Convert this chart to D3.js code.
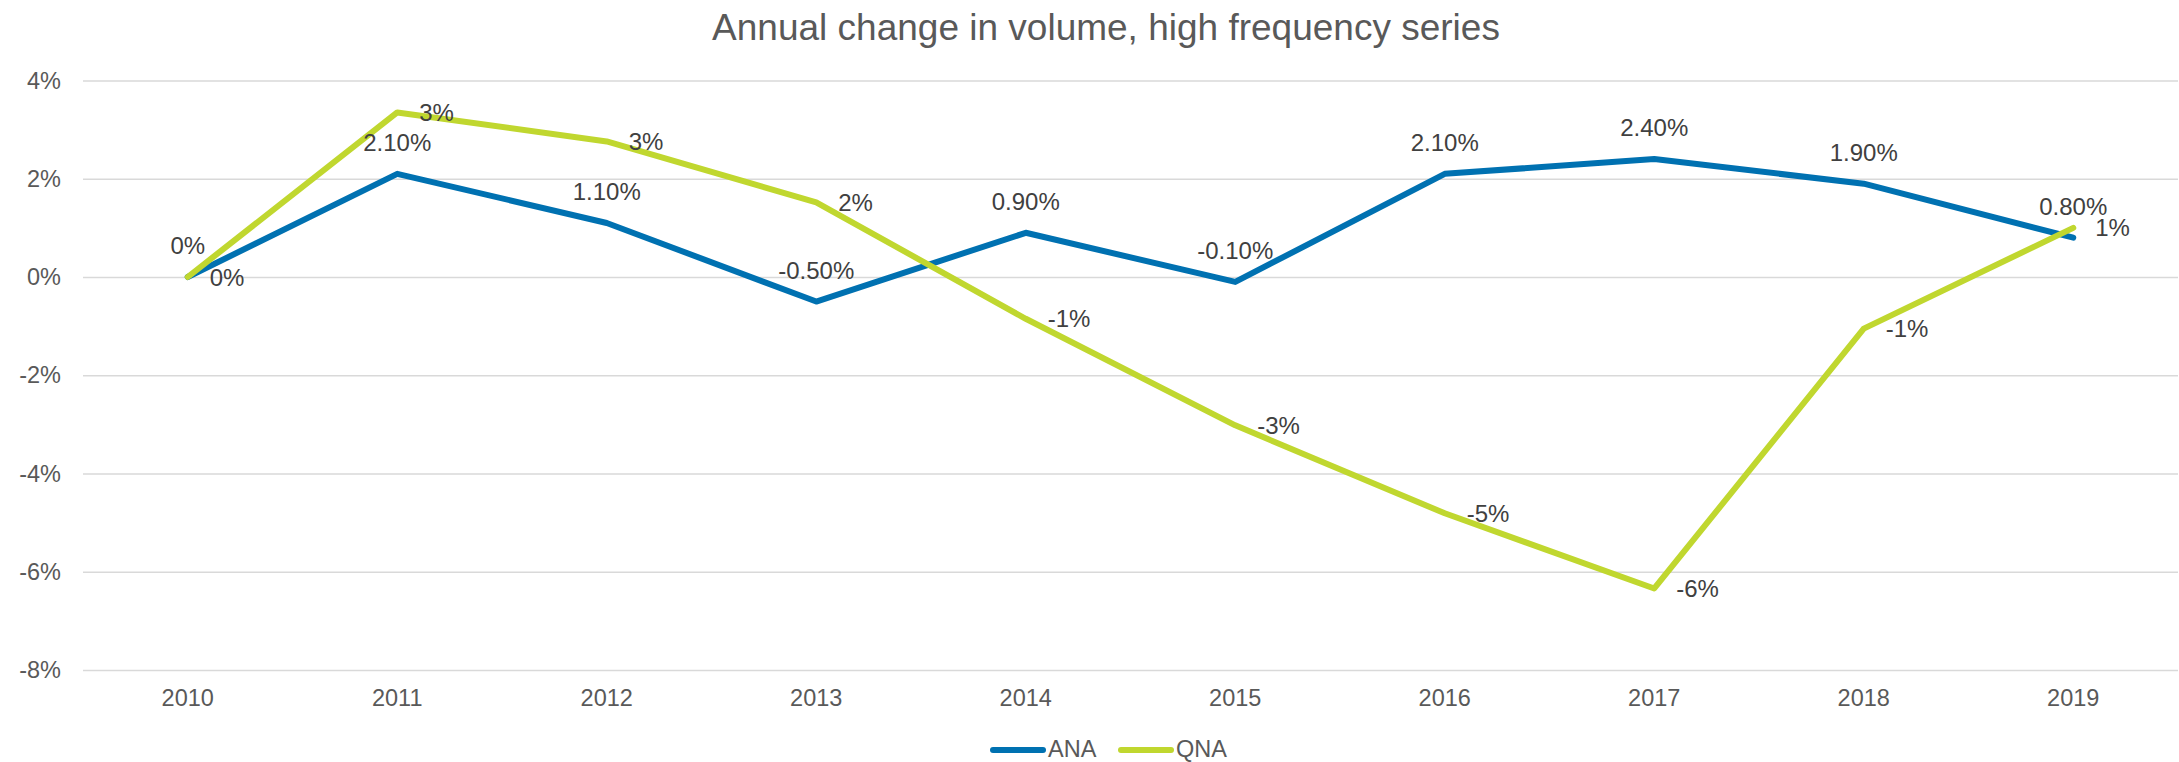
<!DOCTYPE html>
<html>
<head>
<meta charset="utf-8">
<script src="https://cdn.jsdelivr.net/npm/d3@7"></script>
<style>
  body { margin: 0; background: #fff; }
  svg { display: block; font-family: "Liberation Sans", Arial, sans-serif; }
</style>
</head>
<body>
<svg id="chart" width="2179" height="762"></svg>
<script>
'use strict';

/* -- Data ------------------------------------------------------------------ */
const years = ['2010', '2011', '2012', '2013', '2014', '2015', '2016', '2017', '2018', '2019'];
const anaValues = [0, 2.1, 1.1, -0.5, 0.9, -0.1, 2.1, 2.4, 1.9, 0.8];
const qnaValues = [0, 3.35, 2.76, 1.52, -0.85, -3.02, -4.81, -6.34, -1.05, 1.0];
const yTicks = [4, 2, 0, -2, -4, -6, -8];
const seriesNames = ['ANA', 'QNA'];

const colors = { ANA: '#0071B1', QNA: '#C0D72F' };

/* -- Setup ----------------------------------------------------------------- */
const svg = d3.select('#chart');
const margin = { top: 80.5, right: 1, bottom: 92, left: 83 };
const W = 2179, H = 762;

const xScale = d3.scaleBand()
    .domain(years)
    .range([margin.left, W - margin.right]);

const yScale = d3.scaleLinear()
    .domain([-8, 4])
    .range([H - margin.bottom, margin.top]);

const xMid = function(d) { return xScale(d) + xScale.bandwidth() / 2; };

/* -- Title ----------------------------------------------------------------- */
svg.append('text')
    .attr('x', 1106)
    .attr('y', 40)
    .attr('text-anchor', 'middle')
    .attr('font-size', 37)
    .attr('fill', '#595959')
    .text('Annual change in volume, high frequency series');

/* -- Gridlines + y axis ---------------------------------------------------- */
const yAxis = d3.axisLeft(yScale)
    .tickValues(yTicks)
    .tickSize(-(W - margin.left - margin.right))
    .tickPadding(22)
    .tickFormat(function(d) { return d + '%'; });

const yAxisG = svg.append('g')
    .attr('class', 'y axis')
    .attr('transform', 'translate(' + margin.left + ',0)')
    .call(yAxis);
yAxisG.select('.domain').remove();
yAxisG.selectAll('line').attr('stroke', '#D9D9D9').attr('stroke-width', 1.6);
yAxisG.selectAll('text')
    .attr('font-size', 23.5)
    .attr('fill', '#595959')
    .attr('font-family', '"Liberation Sans", Arial, sans-serif');

/* -- X axis labels --------------------------------------------------------- */
const xAxis = d3.axisBottom(xScale).tickSize(0).tickPadding(0);
const xAxisG = svg.append('g')
    .attr('class', 'x axis')
    .attr('transform', 'translate(0,' + (H - margin.bottom) + ')')
    .call(xAxis);
xAxisG.select('.domain').remove();
xAxisG.selectAll('text')
    .attr('dy', null)
    .attr('y', 36)
    .attr('font-size', 23.5)
    .attr('fill', '#595959')
    .attr('font-family', '"Liberation Sans", Arial, sans-serif');

/* -- Lines ----------------------------------------------------------------- */
const line = d3.line()
    .x(function(d) { return xMid(d.year); })
    .y(function(d) { return yScale(d.value); });

const toPoints = function(values) {
    return years.map(function(y, i) { return { year: y, value: values[i] }; });
};

const anaData = toPoints(anaValues);
const qnaData = toPoints(qnaValues);

svg.append('path')
    .datum(anaData)
    .attr('d', line)
    .attr('fill', 'none')
    .attr('stroke', colors.ANA)
    .attr('stroke-width', 6)
    .attr('stroke-linejoin', 'round')
    .attr('stroke-linecap', 'round');

svg.append('path')
    .datum(qnaData)
    .attr('d', line)
    .attr('fill', 'none')
    .attr('stroke', colors.QNA)
    .attr('stroke-width', 6)
    .attr('stroke-linejoin', 'round')
    .attr('stroke-linecap', 'round');

/* -- Data labels: ANA above, QNA right ------------------------------------- */
svg.append('g').selectAll('text')
    .data(anaData)
    .enter()
    .append('text')
    .attr('x', function(d) { return xMid(d.year); })
    .attr('y', function(d) { return yScale(d.value) - 23; })
    .attr('text-anchor', 'middle')
    .attr('font-size', 24)
    .attr('fill', '#404040')
    .text(function(d) { return d.value === 0 ? '0%' : d.value.toFixed(2) + '%'; });

svg.append('g').selectAll('text')
    .data(qnaData)
    .enter()
    .append('text')
    .attr('x', function(d) { return xMid(d.year) + 22; })
    .attr('y', function(d) { return yScale(d.value) + 8.5; })
    .attr('text-anchor', 'start')
    .attr('font-size', 24)
    .attr('fill', '#404040')
    .text(function(d) { return Math.round(d.value) + '%'; });

/* -- Legend ---------------------------------------------------------------- */
const legendX = [991, 1119];
const legend = svg.append('g').attr('class', 'legend');
seriesNames.forEach(function(name, i) {
    const g = legend.append('g').attr('transform', 'translate(' + legendX[i] + ',750)');
    g.append('line')
        .attr('x1', 2).attr('x2', 52)
        .attr('y1', 0).attr('y2', 0)
        .attr('stroke', colors[name])
        .attr('stroke-width', 6)
        .attr('stroke-linecap', 'round');
    g.append('text')
        .attr('x', 57)
        .attr('y', 7)
        .attr('font-size', 23.5)
        .attr('fill', '#595959')
        .text(name);
});
</script>
</body>
</html>
